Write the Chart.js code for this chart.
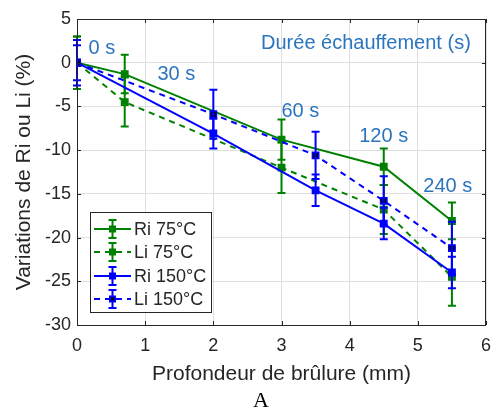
<!DOCTYPE html>
<html>
<head>
<meta charset="utf-8">
<script src="https://cdn.jsdelivr.net/npm/chart.js@4"></script>
<style>
  html, body { margin: 0; padding: 0; background: #fff; }
  #wrap { width: 492px; height: 413px; }
</style>
</head>
<body>
<div id="wrap"><canvas id="graph" width="492" height="413"></canvas></div>
<script>
// -------------------------
// DATA
// -------------------------
const depth75 = [0, 0.7, 3, 4.5, 5.5];
const depth150 = [0, 2, 3.5, 4.5, 5.5];

const ri75 = [0, -1.3, -8.8, -11.9, -18.1];
const ri75Err = [3.0, 2.2, 2.3, 2.1, 2.1];
const li75 = [0, -4.5, -12.0, -16.8, -24.5];
const li75Err = [3.0, 2.8, 2.9, 2.8, 3.3];

const ri150 = [0, -8.1, -14.6, -18.4, -24.0];
const ri150Err = [2.0, 1.7, 1.8, 1.8, 1.8];
const li150 = [0, -5.9, -10.6, -15.8, -21.2];
const li150Err = [2.6, 2.8, 2.7, 2.8, 3.0];

const heatTimes = ["0 s", "30 s", "60 s", "120 s", "240 s"];
const heatTitle = "Durée échauffement (s)";

const xTicks = [0, 1, 2, 3, 4, 5, 6];
const yTicks = [5, 0, -5, -10, -15, -20, -25, -30];

const GREEN = "#008000";
const BLUE = "#0000ff";
const AXIS = "#262626";
const NOTE = "#2b74bf";
const FONT = "'Liberation Sans', Arial, sans-serif";

function pts(xs, ys) {
  return xs.map((x, i) => ({ x: x, y: ys[i] }));
}

// -------------------------
// ERROR BARS (per dataset, right after its line)
// -------------------------
const errorBars = {
  id: "errorBars",
  afterDatasetDraw(chart, args) {
    const ds = chart.data.datasets[args.index];
    const { ctx, scales: { x, y } } = chart;
    ctx.save();
    ctx.strokeStyle = ds.borderColor;
    ctx.lineWidth = 2;
    ctx.setLineDash([]);
    ds.data.forEach((p, j) => {
      const px = x.getPixelForValue(p.x);
      const top = y.getPixelForValue(p.y + ds.errors[j]);
      const bot = y.getPixelForValue(p.y - ds.errors[j]);
      ctx.beginPath();
      ctx.moveTo(px, top); ctx.lineTo(px, bot);
      ctx.moveTo(px - 4, top); ctx.lineTo(px + 4, top);
      ctx.moveTo(px - 4, bot); ctx.lineTo(px + 4, bot);
      ctx.stroke();
    });
    ctx.restore();
  }
};

// -------------------------
// BOX, TICKS, NOTES, LEGEND
// -------------------------
const decorations = {
  id: "decorations",
  afterDraw(chart) {
    const { ctx, chartArea: a, scales: { x, y } } = chart;
    ctx.save();

    // axes box + inward ticks
    ctx.strokeStyle = AXIS;
    ctx.lineWidth = 1;
    ctx.setLineDash([]);
    ctx.strokeRect(Math.round(a.left) + 0.5, Math.round(a.top) + 0.5,
      Math.round(a.right - a.left) - 1, Math.round(a.bottom - a.top));
    ctx.beginPath();
    xTicks.forEach(v => {
      const px = Math.round(x.getPixelForValue(v)) + 0.5;
      ctx.moveTo(px, a.bottom); ctx.lineTo(px, a.bottom - 4);
      ctx.moveTo(px, a.top); ctx.lineTo(px, a.top + 4);
    });
    yTicks.forEach(v => {
      const py = Math.round(y.getPixelForValue(v)) + 0.5;
      ctx.moveTo(a.left, py); ctx.lineTo(a.left + 4, py);
      ctx.moveTo(a.right, py); ctx.lineTo(a.right - 4, py);
    });
    ctx.stroke();

    // heating duration notes
    const notePos = [[0.17, 1.6], [1.18, -1.3], [3.0, -5.6], [4.14, -8.4], [5.08, -14.1]];
    ctx.fillStyle = NOTE;
    ctx.font = "20px " + FONT;
    ctx.textAlign = "left";
    ctx.textBaseline = "middle";
    heatTimes.forEach((t, i) => {
      ctx.fillText(t, x.getPixelForValue(notePos[i][0]), y.getPixelForValue(notePos[i][1]));
    });
    ctx.fillText(heatTitle, x.getPixelForValue(2.7), y.getPixelForValue(2.25));

    // legend
    const lx = 90.5, ly = 212.5, lw = 121, lh = 100;
    ctx.fillStyle = "#fff";
    ctx.fillRect(lx, ly, lw, lh);
    ctx.strokeStyle = AXIS;
    ctx.lineWidth = 1;
    ctx.strokeRect(lx, ly, lw, lh);
    const rows = [229, 252, 276, 299];
    chart.data.datasets.forEach((ds, i) => {
      const ry = rows[i];
      const cx = 112.5;
      ctx.strokeStyle = ds.borderColor;
      ctx.lineWidth = 2;
      ctx.setLineDash(ds.borderDash || []);
      ctx.beginPath();
      ctx.moveTo(94, ry); ctx.lineTo(131, ry);
      ctx.stroke();
      ctx.setLineDash([]);
      ctx.beginPath();
      ctx.moveTo(cx, ry - 9); ctx.lineTo(cx, ry + 9);
      ctx.moveTo(cx - 4, ry - 9); ctx.lineTo(cx + 4, ry - 9);
      ctx.moveTo(cx - 4, ry + 9); ctx.lineTo(cx + 4, ry + 9);
      ctx.stroke();
      ctx.fillStyle = ds.pointBorderColor;
      ctx.fillRect(cx - 3.5, ry - 3.5, 7, 7);
      ctx.fillStyle = ds.pointBackgroundColor;
      ctx.fillRect(cx - 1.5, ry - 1.5, 3, 3);
      ctx.fillStyle = AXIS;
      ctx.font = "18px " + FONT;
      ctx.textAlign = "left";
      ctx.textBaseline = "middle";
      ctx.fillText(ds.label, 134, ry + 1);
    });

    // panel letter
    ctx.fillStyle = "#000";
    ctx.font = "22px 'Liberation Serif', 'Times New Roman', serif";
    ctx.textAlign = "center";
    ctx.textBaseline = "middle";
    ctx.fillText("A", 261, 401);

    ctx.restore();
  }
};

// -------------------------
// CHART
// -------------------------
function series(label, xs, ys, errs, color, dashed, face) {
  return {
    label: label,
    data: pts(xs, ys),
    errors: errs,
    borderColor: color,
    backgroundColor: color,
    borderWidth: 2,
    borderDash: dashed ? [6, 5] : [],
    pointStyle: "rect",
    pointRadius: 4.5,
    pointBorderWidth: 1.5,
    pointBorderColor: color,
    pointBackgroundColor: face || color,
    tension: 0,
    fill: false
  };
}

const ctx = document.getElementById("graph").getContext("2d");

new Chart(ctx, {
  type: "line",
  data: {
    datasets: [
      Object.assign(series("Ri 75°C", depth75, ri75, ri75Err, GREEN, false), { order: 3 }),
      Object.assign(series("Li 75°C", depth75, li75, li75Err, GREEN, true), { order: 2 }),
      Object.assign(series("Ri 150°C", depth150, ri150, ri150Err, BLUE, false), { order: 1 }),
      Object.assign(series("Li 150°C", depth150, li150, li150Err, BLUE, true, "#000"), { order: 0 })
    ]
  },
  options: {
    responsive: false,
    animation: false,
    events: [],
    layout: { padding: { left: 12, right: 3, top: 19, bottom: 26 } },
    plugins: { legend: { display: false }, tooltip: { enabled: false } },
    scales: {
      x: {
        type: "linear",
        min: 0, max: 6,
        afterBuildTicks: s => { s.ticks = xTicks.map(v => ({ value: v })); },
        afterFit: s => { s.height = 62; s.paddingLeft = 0; s.paddingRight = 0; },
        grid: { color: "#dfdfdf", drawTicks: false },
        border: { display: false },
        ticks: { color: AXIS, padding: 10, font: { family: FONT, size: 18 }, maxRotation: 0 },
        title: {
          display: true, text: "Profondeur de brûlure (mm)", color: AXIS,
          padding: { top: 0, bottom: 0 }, font: { family: FONT, size: 21 }
        }
      },
      y: {
        min: -30, max: 5,
        afterBuildTicks: s => { s.ticks = yTicks.map(v => ({ value: v })); },
        afterFit: s => { s.width = 65; s.paddingTop = 0; s.paddingBottom = 0; },
        grid: { color: "#dfdfdf", drawTicks: false },
        border: { display: false },
        ticks: { color: AXIS, padding: 6, font: { family: FONT, size: 18 } },
        title: {
          display: true, text: "Variations de Ri ou Li (%)", color: AXIS,
          padding: { top: 0, bottom: 0 }, font: { family: FONT, size: 21 }
        }
      }
    }
  },
  plugins: [errorBars, decorations]
});
</script>
</body>
</html>
